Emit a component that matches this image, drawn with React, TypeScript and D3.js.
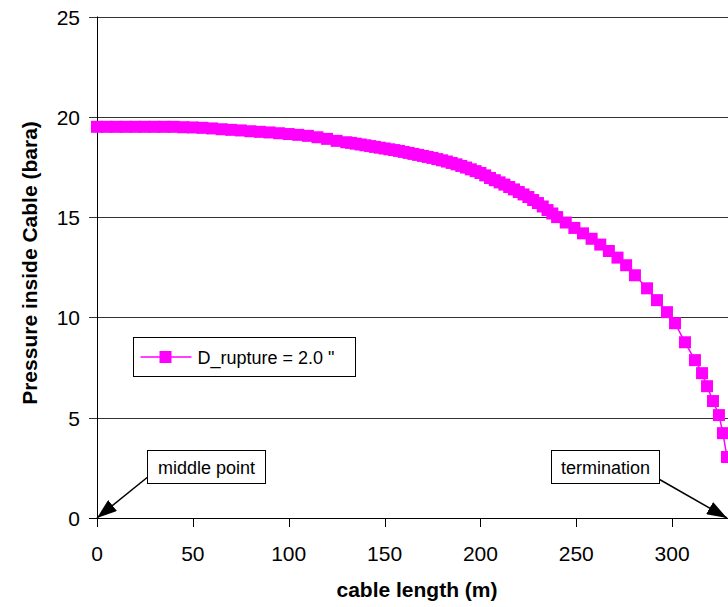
import { useEffect, useRef } from "react";
import * as d3 from "d3";

// cable length (m) and pressure (bara)
const lengths = [
  0, 5, 10, 15, 20, 25, 30, 35, 40, 45, 50, 55, 60, 65, 70, 75, 80, 85, 90, 95,
  100, 105, 110, 115, 120, 125, 130, 132.5, 135, 137.5, 140, 142.5, 145, 147.5,
  150, 152.5, 155, 157.5, 160, 162.5, 165, 167.5, 170, 172.5, 175, 177.5, 180,
  182.5, 185, 187.5, 190, 192.5, 195, 197.5, 200, 202.5, 205, 207.5, 210,
  212.5, 215, 217.5, 220, 222.5, 225, 227.5, 230, 232.5, 235, 237.5, 240,
  244.5, 249, 253.5, 258, 262.5, 267, 271.5, 276, 280.6, 286.9, 292.1, 297.3,
  301.5, 306.7, 311.9, 315.6, 318.2, 321.3, 324.4, 326.5, 328.6,
];
const pressures = [
  19.5, 19.5, 19.5, 19.5, 19.5, 19.5, 19.5, 19.5, 19.5, 19.48, 19.47, 19.45,
  19.42, 19.38, 19.35, 19.32, 19.28, 19.25, 19.22, 19.18, 19.14, 19.1, 19.05,
  18.98, 18.9, 18.8, 18.73, 18.7, 18.66, 18.62, 18.58, 18.54, 18.5, 18.46,
  18.42, 18.38, 18.34, 18.3, 18.25, 18.2, 18.15, 18.1, 18.05, 18.0, 17.95,
  17.89, 17.83, 17.77, 17.7, 17.63, 17.55, 17.47, 17.38, 17.29, 17.2, 17.08,
  16.95, 16.84, 16.73, 16.62, 16.5, 16.38, 16.25, 16.13, 16.0, 15.85, 15.7,
  15.53, 15.35, 15.18, 15.0, 14.73, 14.46, 14.19, 13.92, 13.63, 13.31, 12.98,
  12.6, 12.1, 11.45, 10.86, 10.26, 9.71, 8.76, 7.87, 7.22, 6.57, 5.83, 5.13,
  4.23, 3.04,
];

const xTicks = [0, 50, 100, 150, 200, 250, 300];
const yTicks = [0, 5, 10, 15, 20, 25];
const seriesName = 'D_rupture = 2.0 "';

export default function App() {
  const svgRef = useRef<SVGSVGElement>(null);

  useEffect(() => {
    if (!svgRef.current) return;
    const svg = d3.select(svgRef.current);
    svg.selectAll("*").remove();

    const width = 728;
    const height = 607;
    const font = "'Liberation Sans', Arial, sans-serif";
    const magenta = "#ff00ff";

    const xScale = d3.scaleLinear().domain([0, 350]).range([97, 768]);
    const yScale = d3.scaleLinear().domain([0, 25]).range([518, 16.5]);

    svg.attr("width", width).attr("height", height).attr("font-family", font);

    const defs = svg.append("defs");
    defs
      .append("marker")
      .attr("id", "arrow")
      .attr("markerUnits", "userSpaceOnUse")
      .attr("viewBox", "0 0 20 14")
      .attr("refX", 20)
      .attr("refY", 7)
      .attr("markerWidth", 20)
      .attr("markerHeight", 14)
      .attr("orient", "auto")
      .append("path")
      .attr("d", "M0,0 L20,7 L0,14 Z")
      .attr("fill", "#000");

    // gridlines + y ticks
    const grid = svg.append("g");
    yTicks.forEach((t) => {
      const y = Math.round(yScale(t)) + 0.5;
      grid
        .append("line")
        .attr("x1", 89)
        .attr("x2", width + 50)
        .attr("y1", y)
        .attr("y2", y)
        .attr("stroke", t === 0 ? "#000" : "#333")
        .attr("stroke-width", 1);
      grid
        .append("text")
        .attr("x", 80)
        .attr("y", y + 7)
        .attr("text-anchor", "end")
        .attr("font-size", 21)
        .text(t);
    });

    // y axis line
    svg
      .append("line")
      .attr("x1", 97.5)
      .attr("x2", 97.5)
      .attr("y1", yScale(25))
      .attr("y2", yScale(0))
      .attr("stroke", "#000");

    // x ticks
    xTicks.forEach((t) => {
      const x = Math.round(xScale(t)) + 0.5;
      svg
        .append("line")
        .attr("x1", x)
        .attr("x2", x)
        .attr("y1", 518)
        .attr("y2", 527)
        .attr("stroke", "#000");
      svg
        .append("text")
        .attr("x", xScale(t))
        .attr("y", 561)
        .attr("text-anchor", "middle")
        .attr("font-size", 21)
        .text(t);
    });

    // axis titles
    svg
      .append("text")
      .attr("x", 417)
      .attr("y", 597)
      .attr("text-anchor", "middle")
      .attr("font-size", 21)
      .attr("font-weight", "bold")
      .text("cable length (m)");

    svg
      .append("text")
      .attr("transform", "translate(37, 263) rotate(-90)")
      .attr("text-anchor", "middle")
      .attr("font-size", 21)
      .attr("font-weight", "bold")
      .text("Pressure inside Cable (bara)");

    // series
    const points = lengths.map((l, i) => [l, pressures[i]] as [number, number]);
    const line = d3
      .line<[number, number]>()
      .x((d) => xScale(d[0]))
      .y((d) => yScale(d[1]));

    svg
      .append("path")
      .datum(points)
      .attr("d", line)
      .attr("fill", "none")
      .attr("stroke", magenta)
      .attr("stroke-width", 1.5);

    const ms = 12;
    svg
      .append("g")
      .selectAll("rect")
      .data(points)
      .enter()
      .append("rect")
      .attr("x", (d) => xScale(d[0]) - ms / 2)
      .attr("y", (d) => yScale(d[1]) - ms / 2)
      .attr("width", ms)
      .attr("height", ms)
      .attr("fill", magenta);

    // legend
    const legend = svg.append("g").attr("transform", "translate(133.5, 337.5)");
    legend
      .append("rect")
      .attr("width", 222)
      .attr("height", 39)
      .attr("fill", "#fff")
      .attr("stroke", "#000");
    legend
      .append("line")
      .attr("x1", 7)
      .attr("x2", 58)
      .attr("y1", 19.5)
      .attr("y2", 19.5)
      .attr("stroke", magenta)
      .attr("stroke-width", 1.5);
    legend
      .append("rect")
      .attr("x", 32 - 6)
      .attr("y", 19.5 - 6)
      .attr("width", 12)
      .attr("height", 12)
      .attr("fill", magenta);
    legend
      .append("text")
      .attr("x", 64)
      .attr("y", 26)
      .attr("font-size", 18)
      .text(seriesName);

    // annotations
    const notes = [
      { label: "middle point", box: [147.5, 450.5, 118, 33], from: [149, 476], to: [xScale(0), yScale(0)] },
      { label: "termination", box: [551.5, 450.5, 108, 33], from: [650, 474], to: [xScale(lengths[lengths.length - 1]), yScale(0)] },
    ];
    notes.forEach((n) => {
      svg
        .append("line")
        .attr("x1", n.from[0])
        .attr("y1", n.from[1])
        .attr("x2", n.to[0])
        .attr("y2", n.to[1])
        .attr("stroke", "#000")
        .attr("stroke-width", 1.5)
        .attr("marker-end", "url(#arrow)");
      svg
        .append("rect")
        .attr("x", n.box[0])
        .attr("y", n.box[1])
        .attr("width", n.box[2])
        .attr("height", n.box[3])
        .attr("fill", "#fff")
        .attr("stroke", "#000");
      svg
        .append("text")
        .attr("x", n.box[0] + n.box[2] / 2)
        .attr("y", n.box[1] + 23)
        .attr("text-anchor", "middle")
        .attr("font-size", 18)
        .text(n.label);
    });
  }, []);

  return (
    <div style={{ position: "absolute", left: 0, top: 0 }}>
      <svg ref={svgRef} style={{ display: "block" }}></svg>
    </div>
  );
}
